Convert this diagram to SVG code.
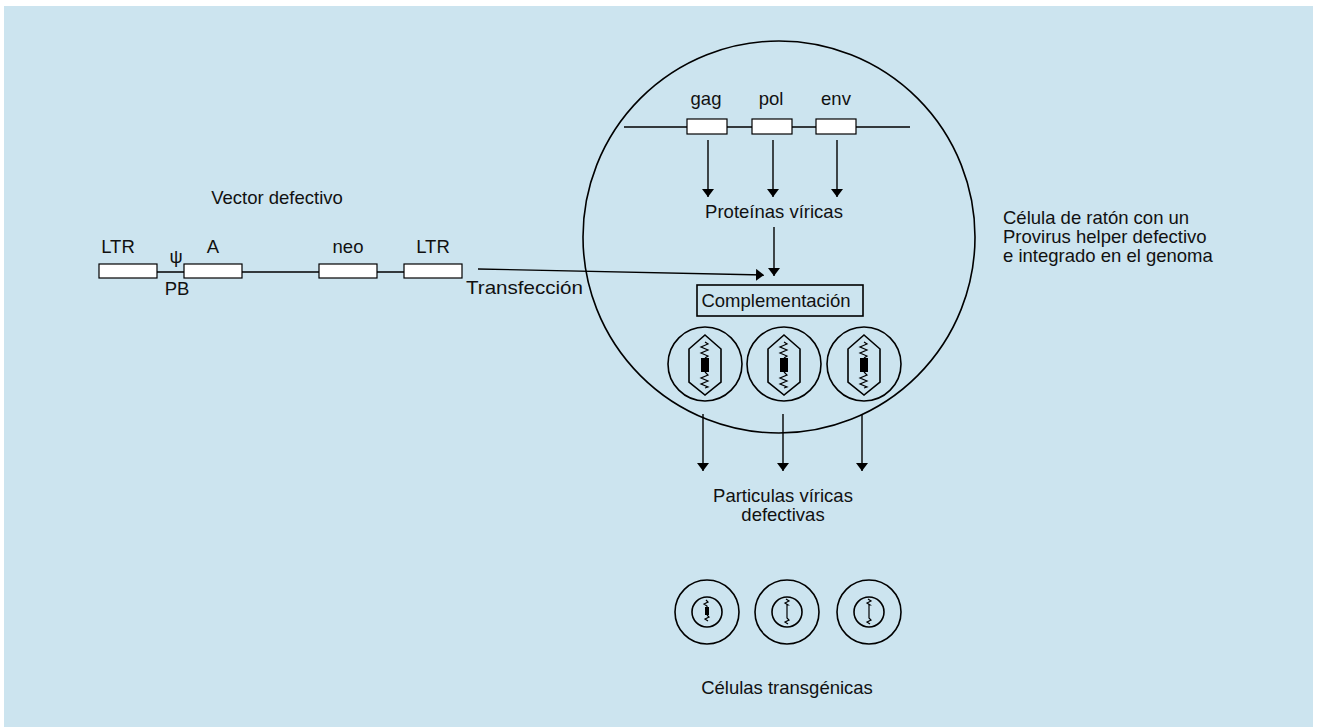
<svg xmlns="http://www.w3.org/2000/svg" width="1318" height="727" viewBox="0 0 1318 727">
  <defs>
    <marker id="arrow" viewBox="0 0 8 12" refX="8" refY="6" markerWidth="8" markerHeight="12" markerUnits="userSpaceOnUse" orient="auto">
      <path d="M0,0 L8,6 L0,12 Z" fill="#000"/>
    </marker>
    <!-- nucleus with a helper-provirus fragment -->
    <g id="nucleus">
      <circle cx="0" cy="0" r="37" class="ln"/>
      <polygon points="0,-29 16,-15 16,18 0,31 -16,18 -16,-15" class="ln"/>
      <polyline points="0,-22 3,-20 -4,-17 3,-14 -4,-11 3,-8 0,-6" class="thin"/>
      <rect x="-4" y="-6" width="8" height="14" fill="#000"/>
      <polyline points="0,8 3,11 -4,14 3,17 -4,20 3,23 0,24" class="thin"/>
    </g>
  </defs>
  <style>
    .ln { fill: none; stroke: #000; stroke-width: 1.6; }
    .thin { fill: none; stroke: #000; stroke-width: 1.2; }
    .gene { fill: #fff; stroke: #000; stroke-width: 1.2; }
    .arr { fill: none; stroke: #000; stroke-width: 1.4; marker-end: url(#arrow); }
    text { font-family: "Liberation Sans", Arial, sans-serif; font-size: 18.5px; fill: #111; }
    .c { text-anchor: middle; }
  </style>

  <rect x="4" y="6" width="1309" height="721" fill="#cce4ef"/>

  <!-- defective retroviral vector -->
  <g id="vector">
    <text x="277" y="204" class="c" font-size="17.5">Vector defectivo</text>
    <line x1="157" y1="272" x2="404" y2="272" class="ln" stroke-width="1.2"/>
    <rect x="99" y="264" width="58" height="14" class="gene"/>
    <rect x="184" y="264" width="58" height="14" class="gene"/>
    <rect x="319" y="264" width="58" height="14" class="gene"/>
    <rect x="404" y="264" width="58" height="14" class="gene"/>
    <text x="118" y="253" class="c">LTR</text>
    <text x="176" y="263" class="c" font-size="16">ψ</text>
    <text x="213" y="253" class="c">A</text>
    <text x="348" y="253" class="c">neo</text>
    <text x="433" y="253" class="c">LTR</text>
    <text x="177" y="295" class="c">PB</text>
    <text x="466" y="294" textLength="117" lengthAdjust="spacingAndGlyphs">Transfección</text>
  </g>

  <!-- packaging cell -->
  <g id="cell">
    <circle cx="779" cy="237" r="196" class="ln"/>
    <line x1="624" y1="127" x2="910" y2="127" class="ln" stroke-width="1.2"/>
    <rect x="687" y="119" width="40" height="15" class="gene"/>
    <rect x="752" y="119" width="40" height="15" class="gene"/>
    <rect x="816" y="119" width="40" height="15" class="gene"/>
    <text x="706" y="105" class="c">gag</text>
    <text x="771" y="105" class="c">pol</text>
    <text x="836" y="105" class="c">env</text>
    <text x="774" y="218" class="c">Proteínas víricas</text>
    <text x="1003" y="224">Célula de ratón con un</text>
    <text x="1003" y="243">Provirus helper defectivo</text>
    <text x="1003" y="262">e integrado en el genoma</text>
  </g>

  <g id="complementation">
    <rect x="697" y="285" width="166" height="31" class="ln" stroke-width="1.4"/>
    <text x="776" y="307" class="c">Complementación</text>
  </g>

  <g id="nuclei">
    <use href="#nucleus" x="705" y="364"/>
    <use href="#nucleus" x="784" y="364"/>
    <use href="#nucleus" x="864" y="364"/>
  </g>

  <g id="particles">
    <text x="783" y="502" class="c">Particulas víricas</text>
    <text x="783" y="521" class="c">defectivas</text>
  </g>

  <!-- transduced cells -->
  <g id="transgenic">
    <circle cx="707" cy="612" r="32" class="ln"/>
    <circle cx="707" cy="612" r="15" class="ln"/>
    <polyline points="706,600 708,602 704,604 707,606 707,607" class="thin"/>
    <rect x="705" y="607" width="4" height="8" fill="#000"/>
    <polyline points="707,615 709,617 705,619 708,621" class="thin"/>
    <circle cx="787" cy="612" r="32" class="ln"/>
    <circle cx="787" cy="612" r="15" class="ln"/>
    <polyline points="786,599 789,601 785,603 788,605 787,605 787,618 789,620 785,622 788,624" class="thin"/>
    <circle cx="869" cy="612" r="32" class="ln"/>
    <circle cx="869" cy="612" r="15" class="ln"/>
    <polyline points="868,599 871,601 867,603 870,605 869,605 869,618 871,620 867,622 870,624" class="thin"/>
    <text x="787" y="694" class="c" font-size="17.5">Células transgénicas</text>
  </g>

  <g id="connectors">
    <line x1="478" y1="269" x2="764" y2="275" class="arr"/>
    <line x1="708" y1="140" x2="708" y2="197" class="arr"/>
    <line x1="773" y1="140" x2="773" y2="197" class="arr"/>
    <line x1="837" y1="140" x2="837" y2="197" class="arr"/>
    <line x1="774" y1="227" x2="774" y2="276" class="arr"/>
    <line x1="703" y1="414" x2="703" y2="471" class="arr"/>
    <line x1="783" y1="414" x2="783" y2="471" class="arr"/>
    <line x1="862" y1="414" x2="862" y2="471" class="arr"/>
  </g>
</svg>
